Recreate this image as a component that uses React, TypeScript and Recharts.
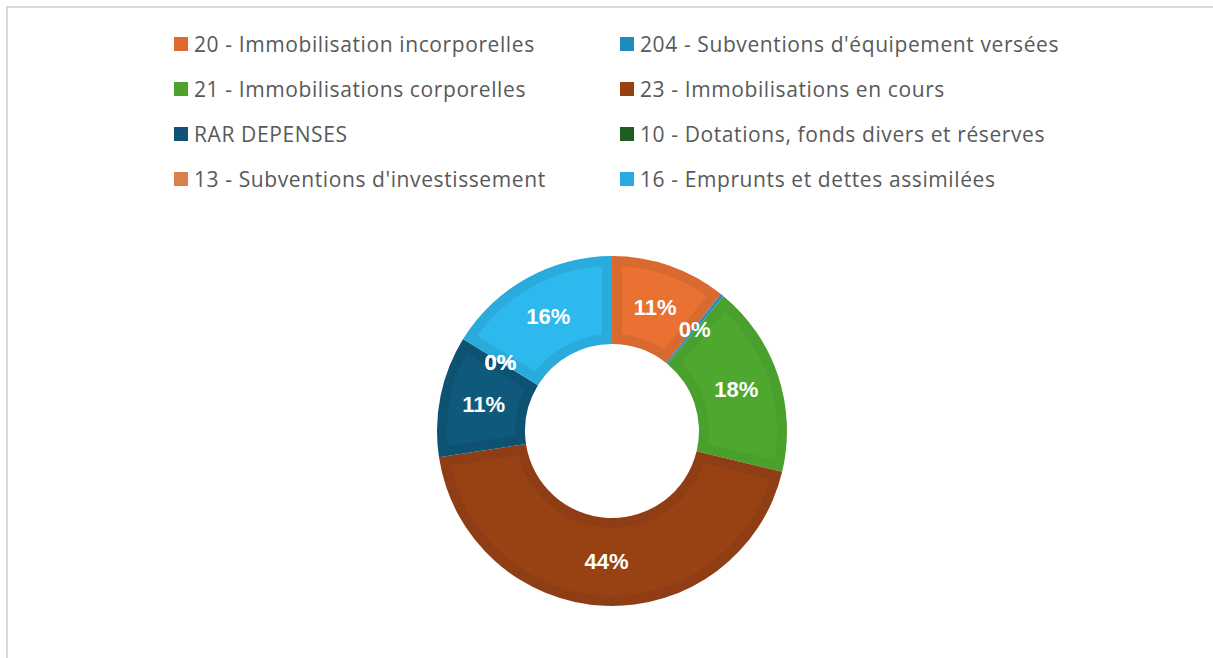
import React from 'react';
import { PieChart, Pie, Cell, Legend } from 'recharts';

const categories = [
  '20 - Immobilisation incorporelles',
  "204 - Subventions d'équipement versées",
  '21 - Immobilisations corporelles',
  '23 - Immobilisations en cours',
  'RAR DEPENSES',
  '10 - Dotations, fonds divers et réserves',
  "13 - Subventions d'investissement",
  '16 - Emprunts et dettes assimilées',
];
const values = [10.7, 0.3, 17.75, 43.85, 11.2, 0, 0, 16.2];
const fillColors = ['#E97132', '#1E8FC0', '#4EA72E', '#984214', '#0F5A7C', '#196B24', '#D9804F', '#2DB8EE'];
const bandColors = ['#D8692F', '#2A8DBC', '#49A02C', '#8E3D14', '#0D5272', '#196B24', '#D9804F', '#2BAADC'];
const legendColors = ['#DE6B2D', '#1B8CBE', '#4CA22D', '#983F14', '#0F5477', '#1E5E1E', '#D9804F', '#28AAE2'];

const data = categories.map((name, i) => ({ name, value: values[i] }));

const RAD = Math.PI / 180;
const BAND = 10;

function pt(cx: number, cy: number, r: number, a: number) {
  return [cx + r * Math.cos(-a * RAD), cy + r * Math.sin(-a * RAD)];
}

function insetPath(cx: number, cy: number, ri: number, ro: number, sa: number, ea: number, b: number) {
  const R = ro - b;
  const r = ri + b;
  const dO = Math.asin(b / R) / RAD;
  const dI = Math.asin(b / r) / RAD;
  const hi = Math.max(sa, ea);
  const lo = Math.min(sa, ea);
  if (hi - dI <= lo + dI) return null;
  const os = pt(cx, cy, R, hi - dO);
  const oe = pt(cx, cy, R, lo + dO);
  const is = pt(cx, cy, r, hi - dI);
  const ie = pt(cx, cy, r, lo + dI);
  const largeO = hi - lo - 2 * dO > 180 ? 1 : 0;
  const largeI = hi - lo - 2 * dI > 180 ? 1 : 0;
  return `M${os[0]},${os[1]} A${R},${R} 0 ${largeO} 1 ${oe[0]},${oe[1]} L${ie[0]},${ie[1]} A${r},${r} 0 ${largeI} 0 ${is[0]},${is[1]} Z`;
}

const renderInset = (props: any) => {
  const { cx, cy, innerRadius, outerRadius, startAngle, endAngle, index } = props;
  const d = insetPath(cx, cy, innerRadius, outerRadius, startAngle, endAngle, BAND);
  if (!d) return <g />;
  return <path d={d} fill={fillColors[index]} stroke="none" />;
};

const renderPct = (props: any) => {
  const { cx, cy, innerRadius, outerRadius, startAngle, endAngle, percent } = props;
  const mid = (startAngle + endAngle) / 2;
  const r = (innerRadius + outerRadius) / 2;
  const [x, y] = pt(cx, cy, r, mid);
  return (
    <text
      x={x}
      y={y}
      fill="#FFFFFF"
      textAnchor="middle"
      dominantBaseline="central"
      fontFamily="'Liberation Sans', Arial, sans-serif"
      fontWeight={700}
      fontSize={22}
    >
      {Math.round(percent * 100)}%
    </text>
  );
};

const renderLegend = () => (
  <div style={{ position: 'relative', width: 1213, height: 0 }}>
    {categories.map((name, i) => {
      const col = i % 2;
      const row = Math.floor(i / 2);
      return (
        <div
          key={name}
          style={{
            position: 'absolute',
            left: col === 0 ? 174 : 620,
            top: 30 + row * 45,
            height: 28,
            display: 'flex',
            alignItems: 'center',
            whiteSpace: 'nowrap',
            fontFamily: "'Open Sans', sans-serif",
            fontSize: 21,
            letterSpacing: 0.6,
            color: '#595959',
          }}
        >
          <span style={{ display: 'inline-block', width: 14, height: 14, background: legendColors[i], marginRight: 6 }} />
          <span>{name}</span>
        </div>
      );
    })}
  </div>
);

export default function App() {
  return (
    <div style={{ position: 'absolute', left: 0, top: 0, width: 1213, height: 658, background: '#fff', overflow: 'hidden' }}>
      <div
        style={{
          position: 'absolute',
          left: 6,
          top: 6,
          right: -10,
          bottom: -10,
          borderLeft: '2px solid #DADADA',
          borderTop: '2px solid #DADADA',
        }}
      />
      <PieChart
        width={1213}
        height={658}
        margin={{ top: 0, right: 0, bottom: 0, left: 0 }}
        style={{ position: 'absolute', left: 0, top: 0 }}
      >
        <Legend content={renderLegend} verticalAlign="top" wrapperStyle={{ left: 0, top: 0, width: 1213, height: 0 }} />
        <Pie
          data={data}
          dataKey="value"
          nameKey="name"
          cx={612}
          cy={431}
          innerRadius={87}
          outerRadius={175}
          startAngle={90}
          endAngle={-270}
          stroke="none"
          label={renderInset}
          labelLine={false}
          isAnimationActive={false}
          legendType="square"
        >
          {data.map((d, i) => (
            <Cell key={d.name} fill={bandColors[i]} />
          ))}
        </Pie>
        <Pie
          data={data}
          dataKey="value"
          nameKey="name"
          cx={612}
          cy={431}
          innerRadius={87}
          outerRadius={175}
          startAngle={90}
          endAngle={-270}
          stroke="none"
          fill="transparent"
          label={renderPct}
          labelLine={false}
          isAnimationActive={false}
          legendType="none"
        >
          {data.map((d) => (
            <Cell key={d.name} fill="transparent" />
          ))}
        </Pie>
      </PieChart>
    </div>
  );
}
